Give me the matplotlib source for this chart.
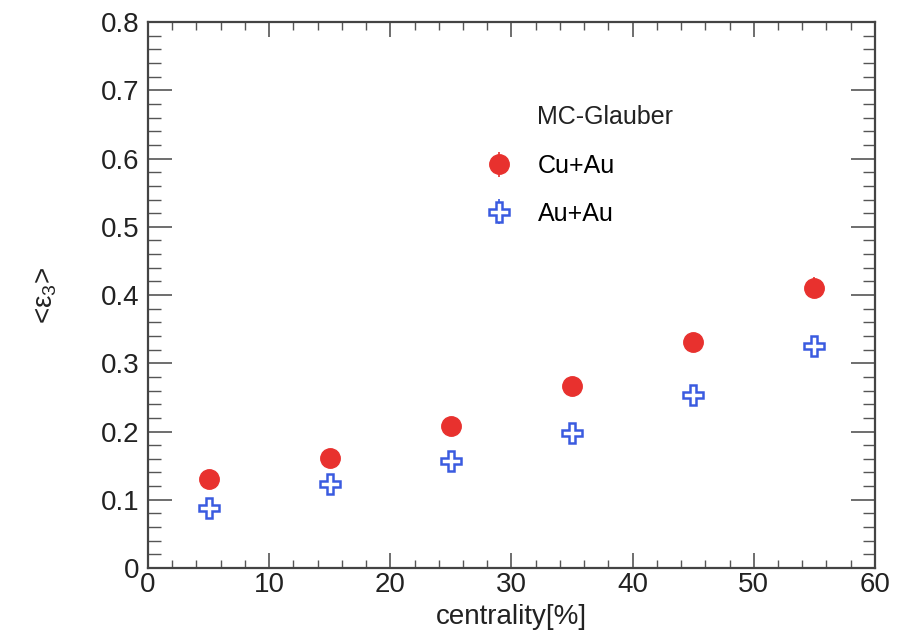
import matplotlib
matplotlib.use('Agg')
import matplotlib.pyplot as plt
from matplotlib.ticker import MultipleLocator

plt.rcParams['font.family'] = ['Liberation Sans', 'DejaVu Sans']
plt.rcParams['mathtext.fontset'] = 'custom'
plt.rcParams['mathtext.rm'] = 'Liberation Sans'
plt.rcParams['mathtext.it'] = 'Liberation Sans'

centrality = [5, 15, 25, 35, 45, 55]
cuau = [0.130, 0.161, 0.208, 0.267, 0.331, 0.411]
cuau_err = [0.004, 0.004, 0.005, 0.006, 0.008, 0.016]
auau = [0.088, 0.123, 0.157, 0.198, 0.253, 0.325]
auau_err = [0.003, 0.003, 0.004, 0.005, 0.006, 0.008]

xticks = [0, 10, 20, 30, 40, 50, 60]
yticks = [0, 0.1, 0.2, 0.3, 0.4, 0.5, 0.6, 0.7, 0.8]

fig = plt.figure(figsize=(9.1, 6.32), dpi=100)
ax = fig.add_axes([0.1626, 0.1013, 0.7989, 0.8637])

ax.errorbar(centrality, cuau, yerr=cuau_err, fmt='o', color='#e8312e',
            markersize=14, elinewidth=1.2, capsize=0, label='Cu+Au')
ax.errorbar(centrality, auau, yerr=auau_err, fmt='P', color='#3a5be0',
            markerfacecolor='white', markeredgecolor='#3a5be0', markeredgewidth=1.8,
            markersize=15, elinewidth=1.2, capsize=0, label='Au+Au')

ax.set_xlim(0, 60)
ax.set_ylim(0, 0.8)
ax.set_xticks(xticks)
ax.set_xticklabels([str(t) for t in xticks])
ax.set_yticks(yticks)
ax.set_yticklabels(['0'] + ['%.1f' % t for t in yticks[1:]])
ax.xaxis.set_minor_locator(MultipleLocator(2))
ax.yaxis.set_minor_locator(MultipleLocator(0.02))

ax.tick_params(which='both', direction='in', top=True, right=True,
               labelsize=20, color='#555555', labelcolor='#222222')
ax.tick_params(axis='x', which='major', length=11, width=1.2, pad=3)
ax.tick_params(axis='x', which='minor', length=6, width=1.0)
ax.tick_params(axis='y', which='major', length=17, width=1.2, pad=6)
ax.tick_params(axis='y', which='minor', length=9, width=1.0)
for s in ax.spines.values():
    s.set_linewidth(1.6)
    s.set_color('#444444')

ax.set_xlabel('centrality[%]', fontsize=20, labelpad=4, color='#222222')
ax.set_ylabel(r'<$\epsilon_3$>', fontsize=20, labelpad=30, color='#222222')

ax.text(0.535, 0.827, 'MC-Glauber', transform=ax.transAxes, fontsize=18,
        ha='left', va='center', color='#222222')
ax.legend(loc='upper left', bbox_to_anchor=(0.424, 0.80), frameon=False,
          fontsize=18, handletextpad=0.75, labelspacing=0.95, numpoints=1,
          handlelength=1.6)

fig.savefig('out.png', dpi=100)
